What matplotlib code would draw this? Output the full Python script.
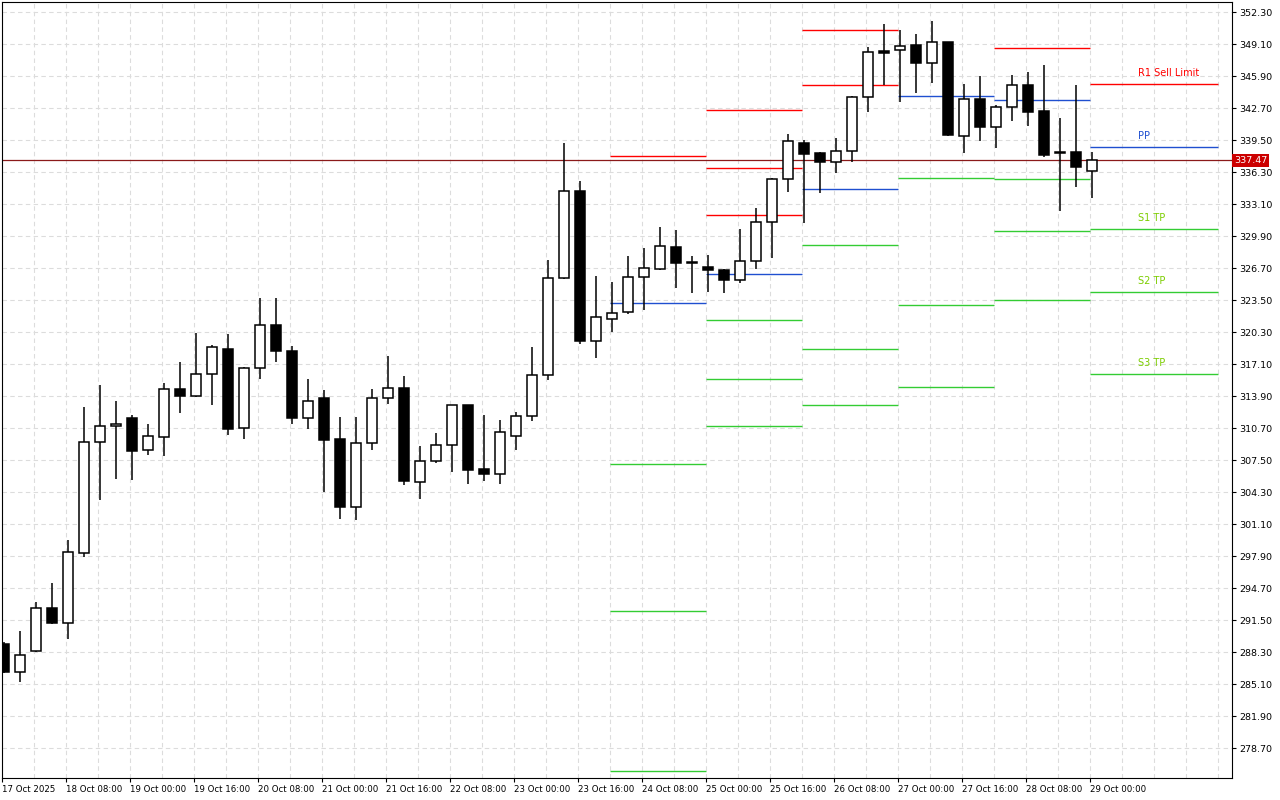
import matplotlib
matplotlib.use("Agg")
import matplotlib.pyplot as plt
import numpy as np

opens  = [289.1,286.3,288.4,292.7,291.2,298.2,309.3,310.9,311.7,308.5,309.8,314.6,313.9,316.1,318.6,310.7,316.7,321.0,318.4,311.7,
          313.7,309.6,302.8,309.2,313.7,314.7,305.3,307.4,309.0,313.0,306.6,306.1,309.9,311.9,316.0,325.7,334.4,319.4,321.6,322.3,
          325.8,326.6,328.8,327.3,326.8,326.5,325.5,327.4,331.3,335.6,339.2,338.2,337.3,338.4,343.8,348.35,348.5,349.0,347.2,349.3,
          339.9,343.6,340.8,342.8,345.0,342.4,338.3,338.3,336.4]
highs  = [289.3,290.4,293.3,295.2,299.5,312.8,315.0,313.4,312.0,311.1,315.2,317.3,320.2,319.0,320.1,316.8,323.7,323.7,318.9,315.6,
          314.5,311.8,311.8,314.6,317.9,315.9,308.9,310.2,313.0,313.0,312.0,311.5,312.3,318.8,327.5,339.2,335.4,325.9,325.3,327.9,
          328.7,330.8,330.5,327.9,328.0,326.6,330.6,332.7,335.7,340.1,339.5,338.3,339.7,343.9,348.8,351.1,350.5,350.1,351.4,349.3,
          345.1,345.9,343.0,346.0,346.3,347.0,341.7,345.0,338.3]
lows   = [286.2,285.3,288.3,291.1,289.6,297.8,303.5,305.6,305.5,308.0,307.9,312.2,313.8,313.0,310.0,309.6,315.6,317.3,311.1,310.6,
          304.3,301.6,301.5,308.5,313.1,305.0,303.6,307.2,306.3,305.1,305.4,305.1,308.5,311.4,315.5,325.6,319.1,317.7,320.3,322.1,
          322.5,326.5,324.7,324.2,324.3,324.2,325.2,326.6,327.7,334.3,331.2,334.2,336.2,337.3,342.3,345.0,343.3,344.2,345.2,339.9,
          338.2,339.4,338.7,341.4,340.9,337.8,332.4,334.8,333.7]
closes = [286.3,288.0,292.7,291.2,298.3,309.3,310.9,311.1,308.4,309.9,314.6,313.9,316.1,318.8,310.6,316.7,321.0,318.4,311.7,313.4,
          309.5,302.8,309.2,313.7,314.7,305.4,307.4,309.0,313.0,306.5,306.1,310.3,311.9,316.0,325.7,334.4,319.4,321.8,322.2,325.8,
          326.7,328.9,327.2,327.2,326.5,325.5,327.4,331.3,335.6,339.4,338.1,337.3,338.4,343.8,348.3,348.25,348.9,347.2,349.3,340.0,
          343.6,340.8,342.8,345.0,342.3,338.0,338.2,336.8,337.47]

x_labels = ["17 Oct 2025","18 Oct 08:00","19 Oct 00:00","19 Oct 16:00","20 Oct 08:00","21 Oct 00:00","21 Oct 16:00",
            "22 Oct 08:00","23 Oct 00:00","23 Oct 16:00","24 Oct 08:00","25 Oct 00:00","25 Oct 16:00","26 Oct 08:00",
            "27 Oct 00:00","27 Oct 16:00","28 Oct 08:00","29 Oct 00:00"]
y_ticks = [352.30,349.10,345.90,342.70,339.50,336.30,333.10,329.90,326.70,323.50,320.30,317.10,313.90,310.70,307.50,
           304.30,301.10,297.90,294.70,291.50,288.30,285.10,281.90,278.70]
last_price = 337.47

# Daily pivots (24 Oct .. 29 Oct)
pivot_day_start = [38, 44, 50, 56, 62, 68]
nan = np.nan
R3 = [nan, 342.5, 350.5, nan, nan, nan]
R2 = [nan, 336.7, 345.0, nan, 348.7, nan]
R1 = [337.9, 332.0, nan, nan, nan, 345.1]
PP = [323.2, 326.1, 334.6, 343.9, 343.5, 338.8]
S1 = [307.1, 321.5, 329.0, 335.7, 335.6, 330.6]
S2 = [292.4, 315.6, 318.6, 323.0, 330.4, 324.3]
S3 = [276.4, 310.9, 313.0, 314.8, 323.5, 316.1]
last_labels = {"R1 Sell Limit": (345.1, "#ff0000"), "PP": (338.8, "#1f4fd0"),
               "S1 TP": (330.6, "#7ccd00"), "S2 TP": (324.3, "#7ccd00"), "S3 TP": (316.1, "#7ccd00")}

fig = plt.figure(figsize=(12.8, 8.0), dpi=100)
ax = fig.add_axes([2/1280, 22/800, 1230/1280, 776/800])
n = len(opens)
idx = np.arange(n)
ax.set_xlim(-0.125, 76.75)
ax.set_ylim(275.7, 353.3)

for k in range(-1, 40):
    ax.axvline(-0.1 + 2*k, color="#dcdcdc", lw=0.8, ls=(0, (4, 3)), zorder=0)
for t in y_ticks:
    ax.axhline(t, color="#dcdcdc", lw=0.8, ls=(0, (4, 3)), zorder=0)

ax.vlines(idx, lows, highs, color="black", lw=1.1, zorder=2)
for i in range(n):
    o, c = opens[i], closes[i]
    bot, h = min(o, c), max(abs(c - o), 0.12)
    fc = "white" if c >= o else "black"
    ax.bar(i, h, bottom=bot, width=0.62, facecolor=fc, edgecolor="black", lw=1.1, zorder=3)

def seg(levels, color, lw):
    for d, v in zip(pivot_day_start, levels):
        if not np.isnan(v):
            end = d - 0.125 + (8 if d == pivot_day_start[-1] else 6)
            ax.hlines(v, d - 0.125, end, color=color, lw=lw, zorder=1)
for lv in (R3, R2, R1):
    seg(lv, "#ff0000", 1.0)
seg(PP, "#1f4fd0", 1.0)
seg(S1, "#33cc33", 1.0); seg(S2, "#33cc33", 1.0); seg(S3, "#33cc33", 1.0)
for txt, (v, col) in last_labels.items():
    ax.text(70.9, v + 0.6, txt, color=col, fontsize=7, va="bottom", ha="left")

ax.axhline(last_price, color="#8b1a1a", lw=0.9, zorder=1)

ax.yaxis.tick_right()
ax.set_yticks(y_ticks)
ax.set_yticklabels([f"{t:.2f}" for t in y_ticks], fontsize=6.8)
ax.set_xticks([4*k - 0.1 for k in range(len(x_labels))])
ax.set_xticklabels(x_labels, fontsize=6.2, ha="left")
ax.tick_params(axis="both", length=3, width=0.8, pad=2)
for s in ax.spines.values():
    s.set_linewidth(0.8)
ax.text(1.0015, last_price, f"{last_price:.2f}", transform=ax.get_yaxis_transform(), fontsize=6.8,
        color="white", va="center", ha="left", bbox=dict(facecolor="#cc0000", edgecolor="none", pad=1.5), zorder=5)

fig.savefig("out.png", dpi=100)
